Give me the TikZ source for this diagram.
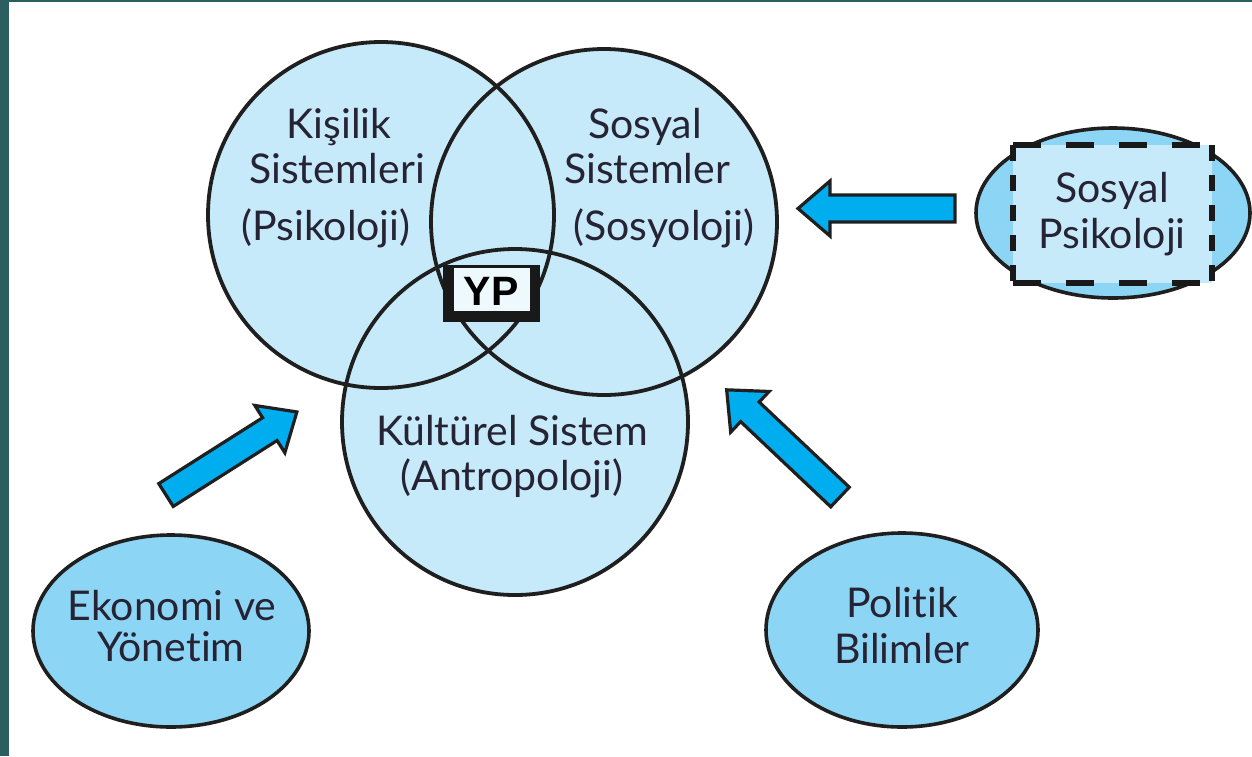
\documentclass[tikz,border=0pt]{standalone}
\usepackage{fontspec}
\setmainfont{Lato}[Ligatures=NoCommon]
\newfontfamily\ypfont{Liberation Sans}
\usetikzlibrary{shapes.geometric}
\definecolor{circfill}{HTML}{C7EAFA}
\definecolor{ellfill}{HTML}{8CD5F5}
\definecolor{arrfill}{HTML}{00AEEF}
\definecolor{txtcol}{HTML}{262434}
\definecolor{borderteal}{HTML}{2B5E5E}
\definecolor{ypwhite}{HTML}{EEF9FD}
\begin{document}
\begin{tikzpicture}[x=1pt,y=-1pt,
  vennfill/.style={circle, fill=circfill, minimum size=346pt, inner sep=0pt, outer sep=0pt},
  vennline/.style={draw=black!88, line width=3.8pt},
  ell/.style={ellipse, draw=black!88, line width=3.6pt, fill=ellfill, inner sep=0pt},
  lbl/.style={anchor=base, text=txtcol, inner sep=0pt, font=\fontsize{41}{45}\selectfont},
  hdash/.style={draw=black!90, line width=5.5pt, dash pattern=on 28pt off 25pt},
  vdash/.style={draw=black!90, line width=5.5pt, dash pattern=on 16pt off 14pt},
  fatarrow/.style={draw=black!88, fill=arrfill, line width=3.2pt, line join=miter}
]
\useasboundingbox (0,0) rectangle (1252,756);
\fill[white] (0,0) rectangle (1252,756);
\fill[borderteal] (0,0) rectangle (9,756);
\fill[borderteal] (0,0) rectangle (1252,1.5);

% Venn circles: fills first, then outlines
\node[vennfill] (kis) at (381,215) {};
\node[vennfill] (sos) at (604,222) {};
\node[vennfill] (kul) at (515,422) {};
\draw[vennline] (kis.center) circle[radius=173pt];
\draw[vennline] (sos.center) circle[radius=173pt];
\draw[vennline] (kul.center) circle[radius=173pt];

% circle labels
\node[lbl] (kisA) at (339,138) {Kişilik};
\node[lbl] (kisB) at (337,183) {Sistemleri};
\node[lbl] (kisC) at (326,240) {(Psikoloji)};
\node[lbl] (sosA) at (645,138) {Sosyal};
\node[lbl] (sosB) at (647,183) {Sistemler};
\node[lbl] (sosC) at (664,240) {(Sosyoloji)};
\node[lbl] (kulA) at (512,445) {Kültürel Sistem};
\node[lbl] (kulB) at (512,490) {(Antropoloji)};

% YP box
\node[fill=black!90, minimum width=97pt, minimum height=57pt, inner sep=0pt] (ypout) at (491.5,293.5) {};
\node[fill=ypwhite, minimum width=76pt, minimum height=43pt, inner sep=0pt] (ypin) at (492,289.5) {};
\node[anchor=base, inner sep=0pt, font=\ypfont\bfseries\fontsize{41}{41}\selectfont] (yp) at (491,305) {YP};

% Sosyal Psikoloji
\node[ell, minimum width=274pt, minimum height=170pt] (spell) at (1113,213) {};
\node[fill=circfill, minimum width=199pt, minimum height=138pt, inner sep=0pt] (sprect) at (1112.5,214) {};
\draw[hdash] (sprect.north west) -- (sprect.north east);
\draw[hdash] (sprect.south west) -- (sprect.south east);
\draw[vdash] (sprect.north west) -- (sprect.south west);
\draw[vdash] (sprect.north east) -- (sprect.south east);
\node[lbl] (spA) at (1112,202) {Sosyal};
\node[lbl] (spB) at (1112,248) {Psikoloji};

% bottom ellipses
\node[ell, minimum width=276pt, minimum height=192pt] (eko) at (171,631) {};
\node[lbl] (ekoA) at (172,620) {Ekonomi ve};
\node[lbl] (ekoB) at (171,661) {Yönetim};
\node[ell, minimum width=272pt, minimum height=194pt] (pol) at (902,630) {};
\node[lbl] (polA) at (902,617) {Politik};
\node[lbl] (polB) at (902,663) {Bilimler};

% block arrows
\coordinate (arrL) at (955,208.5);
\coordinate (arrBL) at (166,495);
\coordinate (arrBR) at (840,497);
\draw[fatarrow, shift={(arrL)}, rotate=180]
  (0,-13.5) -- (125,-13.5) -- (125,-27.5) -- (157,0) -- (125,27.5) -- (125,13.5) -- (0,13.5) -- cycle;
\draw[fatarrow, shift={(arrBL)}, rotate=32.4]
  (0,-13.5) -- (123,-13.5) -- (123,-28) -- (155,0) -- (123,28) -- (123,13.5) -- (0,13.5) -- cycle;
\draw[fatarrow, shift={(arrBR)}, rotate=136.6]
  (0,-13.5) -- (124,-13.5) -- (124,-28) -- (156,0) -- (124,28) -- (124,13.5) -- (0,13.5) -- cycle;
\end{tikzpicture}
\end{document}
